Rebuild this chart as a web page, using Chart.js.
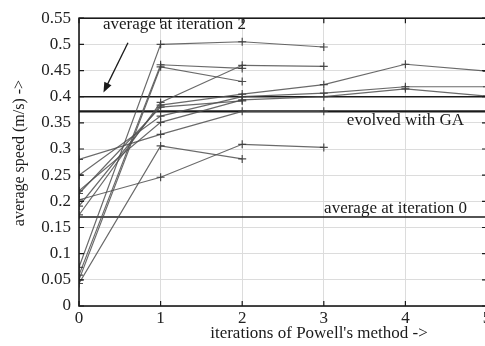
<!DOCTYPE html>
<html lang="en">
<head>
<meta charset="UTF-8">
<script src="https://cdn.jsdelivr.net/npm/chart.js"></script>
<style>
  html, body { margin: 0; padding: 0; background: #fff; overflow: hidden; }
  #wrap { width: 500px; height: 346px; }
</style>
</head>
<body>
<div id="wrap"><canvas id="grafico" width="500" height="346"></canvas></div>
<script>
  // iterations of Powell's method (x axis)
  const iterations = [0, 1, 2, 3, 4, 5];

  // average speed of each run, one value per iteration reached
  const run01 = [0.074, 0.500, 0.505, 0.495];
  const run02 = [0.059, 0.461, 0.454];
  const run03 = [0.050, 0.457, 0.429];
  const run04 = [0.174, 0.389, 0.460, 0.458];
  const run05 = [0.191, 0.384, 0.405, 0.423, 0.462, 0.449];
  const run06 = [0.250, 0.363, 0.400, 0.407, 0.419, 0.419];
  const run07 = [0.220, 0.351, 0.394, 0.400, 0.415, 0.401];
  const run08 = [0.280, 0.328, 0.372, 0.372];
  const run09 = [0.043, 0.306, 0.281];
  const run10 = [0.203, 0.246, 0.309, 0.303];
  const run11 = [0.215, 0.380, 0.392];
  const runs = [run01, run02, run03, run04, run05, run06, run07, run08, run09, run10, run11];

  // reference levels
  const avgIter0 = 0.17;
  const avgIter2 = 0.40;
  const evolvedGA = 0.372;

  const yTicks = [0, 0.05, 0.1, 0.15, 0.2, 0.25, 0.3, 0.35, 0.4, 0.45, 0.5, 0.55];

  const serif = '"Liberation Serif", "DejaVu Serif", serif';

  let datasets = [];
  for (let i = 0; i < runs.length; i++) {
    datasets.push({
      data: runs[i].map((v, k) => ({ x: iterations[k], y: v })),
      borderColor: 'rgba(80,80,80,0.85)',
      borderWidth: 1.2,
      pointStyle: 'cross',
      pointRadius: 4,
      pointBorderColor: 'rgba(60,60,60,0.9)',
      pointBorderWidth: 1.2,
      tension: 0
    });
  }
  function nivel(v, w) {
    return {
      data: [{ x: iterations[0], y: v }, { x: iterations[iterations.length - 1], y: v }],
      borderColor: '#1a1a1a',
      borderWidth: w,
      pointRadius: 0,
      tension: 0
    };
  }
  datasets.push(nivel(avgIter2, 1.4));
  datasets.push(nivel(evolvedGA, 2.2));
  datasets.push(nivel(avgIter0, 1.4));

  // labels drawn in data coordinates
  const notas = [
    { text: 'average at iteration 2', x: 1.17, y: 0.537 },
    { text: 'evolved with GA', x: 4.0, y: 0.354 },
    { text: 'average at iteration 0', x: 3.88, y: 0.187 }
  ];
  const seta = { x0: 0.60, y0: 0.503, x1: 0.30, y1: 0.408 };

  const moldura = {
    id: 'moldura',
    afterDatasetsDraw(chart) {
      const c = chart.ctx, a = chart.chartArea;
      const sx = chart.scales.x, sy = chart.scales.y;
      c.save();
      c.strokeStyle = '#1a1a1a';
      c.lineWidth = 1.6;
      c.strokeRect(a.left, a.top, a.right - a.left, a.bottom - a.top);
      c.lineWidth = 1.2;
      c.beginPath();
      yTicks.forEach(v => {
        const p = sy.getPixelForValue(v);
        c.moveTo(a.left, p); c.lineTo(a.left + 5, p);
        c.moveTo(a.right, p); c.lineTo(a.right - 5, p);
      });
      iterations.forEach(v => {
        const p = sx.getPixelForValue(v);
        c.moveTo(p, a.bottom); c.lineTo(p, a.bottom - 5);
        c.moveTo(p, a.top); c.lineTo(p, a.top + 5);
      });
      c.stroke();

      // annotations
      c.fillStyle = '#1a1a1a';
      c.font = '17px ' + serif;
      c.textAlign = 'center';
      c.textBaseline = 'middle';
      notas.forEach(n => c.fillText(n.text, sx.getPixelForValue(n.x), sy.getPixelForValue(n.y)));

      // arrow
      const x0 = sx.getPixelForValue(seta.x0), y0 = sy.getPixelForValue(seta.y0);
      const x1 = sx.getPixelForValue(seta.x1), y1 = sy.getPixelForValue(seta.y1);
      const ang = Math.atan2(y1 - y0, x1 - x0);
      c.lineWidth = 1.3;
      c.beginPath();
      c.moveTo(x0, y0);
      c.lineTo(x1 - 6 * Math.cos(ang), y1 - 6 * Math.sin(ang));
      c.stroke();
      c.beginPath();
      c.moveTo(x1, y1);
      c.lineTo(x1 - 10 * Math.cos(ang) + 4 * Math.sin(ang), y1 - 10 * Math.sin(ang) - 4 * Math.cos(ang));
      c.lineTo(x1 - 10 * Math.cos(ang) - 4 * Math.sin(ang), y1 - 10 * Math.sin(ang) + 4 * Math.cos(ang));
      c.closePath();
      c.fill();

      // axis titles
      c.font = '17px ' + serif;
      c.fillText("iterations of Powell's method ->", 319, 334);
      c.font = '16px ' + serif;
      c.translate(20, 153);
      c.rotate(-Math.PI / 2);
      c.fillText('average speed (m/s) ->', 0, 0);
      c.restore();
    }
  };

  new Chart(document.getElementById('grafico'), {
    type: 'line',
    data: { datasets: datasets },
    options: {
      responsive: false,
      animation: false,
      layout: { padding: { top: 10, right: 13, left: 0, bottom: 0 } },
      plugins: { legend: { display: false }, tooltip: { enabled: false } },
      scales: {
        x: {
          type: 'linear',
          min: 0, max: 5,
          afterFit(s) { s.height = 40; },
          afterBuildTicks(s) { s.ticks = iterations.map(v => ({ value: v })); },
          grid: { color: '#dcdcdc', lineWidth: 1, drawTicks: false },
          border: { display: false },
          ticks: { color: '#222', font: { family: serif, size: 17 }, padding: 2, maxRotation: 0 }
        },
        y: {
          min: 0, max: 0.55,
          afterFit(s) { s.width = 79; },
          afterBuildTicks(s) { s.ticks = yTicks.map(v => ({ value: v })); },
          grid: { color: '#dcdcdc', lineWidth: 1, drawTicks: false },
          border: { display: false },
          ticks: {
            color: '#222', font: { family: serif, size: 17 }, padding: 8,
            callback: v => String(Number(v.toFixed(2)))
          }
        }
      }
    },
    plugins: [moldura]
  });
</script>
</body>
</html>
